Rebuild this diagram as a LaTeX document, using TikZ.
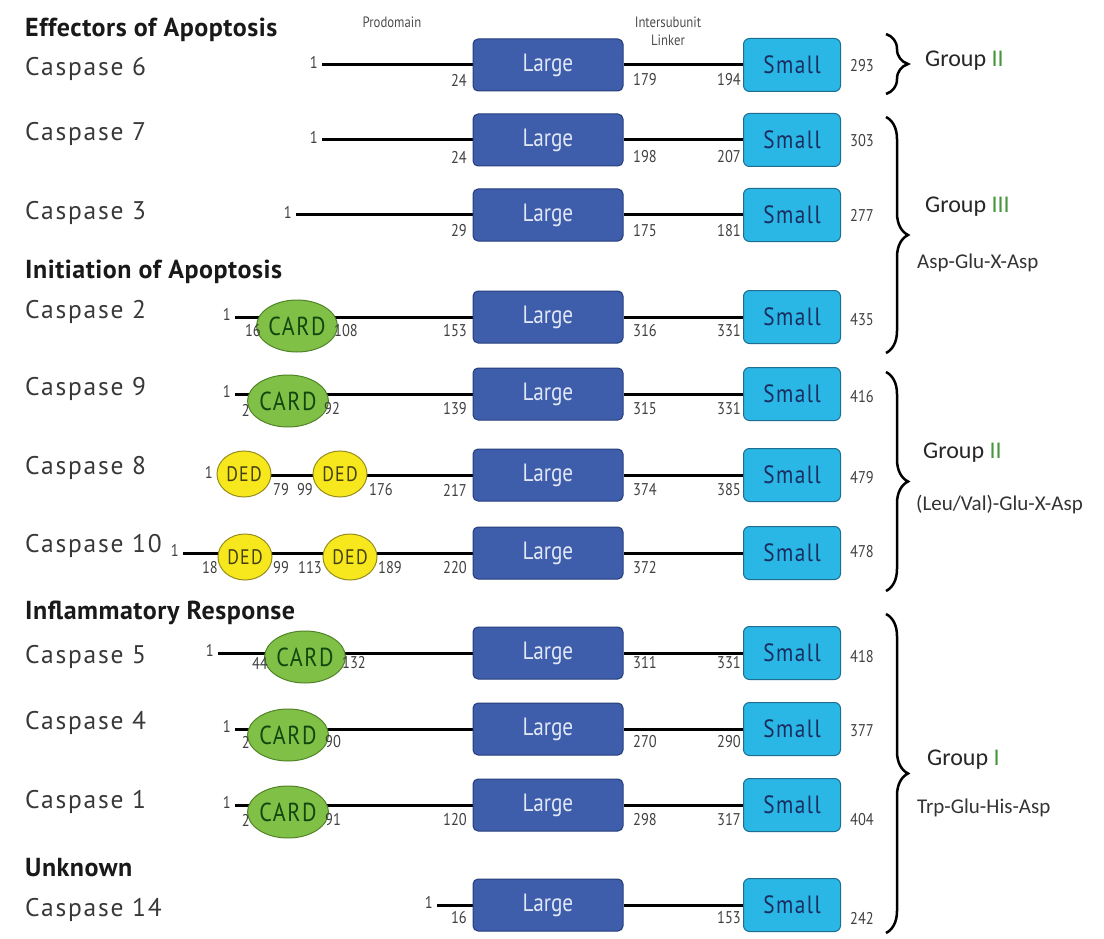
\documentclass[tikz,border=0pt]{standalone}
\usepackage{fontspec}
\setmainfont{PT Sans}
\newfontfamily\casfont[LetterSpace=7]{PT Sans}
\newfontfamily\numfont[FakeStretch=0.85]{PT Sans}
\newfontfamily\boxfont[FakeStretch=0.85,LetterSpace=6]{PT Sans}
\newfontfamily\headfont[LetterSpace=2]{PT Sans}
\newfontfamily\grpfont{Carlito}
\definecolor{largeblue}{RGB}{62, 93, 170}
\definecolor{largeedge}{RGB}{40, 62, 125}
\definecolor{largetext}{RGB}{225, 231, 246}
\definecolor{smallcyan}{RGB}{42, 183, 230}
\definecolor{smalledge}{RGB}{30, 110, 145}
\definecolor{smalltext}{RGB}{25, 45, 95}
\definecolor{cardgreen}{RGB}{128, 192, 70}
\definecolor{cardedge}{RGB}{80, 130, 40}
\definecolor{cardtext}{RGB}{20, 70, 15}
\definecolor{dedyellow}{RGB}{246, 232, 28}
\definecolor{dededge}{RGB}{150, 140, 30}
\definecolor{dedtext}{RGB}{70, 65, 20}
\definecolor{grpgreen}{RGB}{70, 150, 60}
\usepackage{tikz}
\usetikzlibrary{
  positioning,
  shapes.geometric,
  calc,
  backgrounds,
  decorations.pathreplacing
}

\begin{document}
\begin{tikzpicture}[
  x=1pt, y=-1pt,
  large/.style={
    draw=largeedge, fill=largeblue, rounded corners=5pt, line width=1pt,
    minimum width=150pt, minimum height=52pt, text=largetext,
    font=\numfont\fontsize{25}{25}\selectfont
  },
  small/.style={
    draw=smalledge, fill=smallcyan, rounded corners=6pt, line width=1pt,
    minimum width=97pt, minimum height=53pt, text=smalltext,
    font=\boxfont\fontsize{25}{25}\selectfont
  },
  card/.style={
    ellipse, draw=cardedge, fill=cardgreen, line width=1pt, inner sep=0pt,
    minimum width=70pt, minimum height=52pt, text=cardtext,
    font=\boxfont\fontsize{26}{26}\selectfont
  },
  ded/.style={
    ellipse, draw=dededge, fill=dedyellow, line width=1pt, inner sep=0pt,
    minimum width=54pt, minimum height=46pt, text=dedtext,
    font=\boxfont\fontsize{21}{21}\selectfont
  },
  num/.style={inner sep=0pt, text=black!75, font=\numfont\fontsize{17}{17}\selectfont},
  caslab/.style={inner sep=0pt, text=black!78, font=\casfont\fontsize{25.5}{26}\selectfont},
  head/.style={inner sep=0pt, text=black!90, font=\headfont\bfseries\fontsize{26}{26}\selectfont},
  toplab/.style={inner sep=0pt, text=black!70, align=center, font=\numfont\fontsize{15}{18}\selectfont},
  grp/.style={inner sep=0pt, text=black!85, font=\grpfont\fontsize{24}{24}\selectfont},
  motif/.style={inner sep=0pt, text=black!80, font=\grpfont\fontsize{21}{21}\selectfont},
  backbone/.style={line width=3pt},
  grpbrace/.style={decorate, decoration={brace, amplitude=22pt}, line width=2.5pt}
]
\useasboundingbox (0,0) rectangle (1104,939);

% section headings
\node[head, anchor=base west] (hEff) at (25,37) {Effectors of Apoptosis};
\node[head, anchor=base west] (hIni) at (25,278) {Initiation of Apoptosis};
\node[head, anchor=base west] (hInf) at (25,619) {Inflammatory Response};
\node[head, anchor=base west] (hUnk) at (25,876) {Unknown};

\node[toplab] (pro) at (392,22) {Prodomain};
\node[toplab] (isl) at (668,31) {Intersubunit\\Linker};

% one row per caspase: number / line y / start x / label baseline / last residue / its y
\foreach \n/\y/\x/\ly/\e/\ey in {6/65/322/76/293/66, 7/140/322/141/303/141,
    3/215/296/219/277/215, 2/317/235/318/435/320, 9/394/235/395/416/397,
    8/475/217/474/479/478, 10/553/183/552/478/552, 5/653/218/663/418/657,
    4/729/235/729/377/731, 1/805/235/808/404/820, 14/905/437/916/242/918} {
  \node[caslab, anchor=base west] (t\n) at (25,\ly) {Caspase \n};
  \node[large] (L\n) at (548,\y) {Large};
  \node[small] (S\n) at (792,\y) {Small};
  \coordinate (c\n) at (\x,\y);
  \node[num, anchor=east] (one\n) at (\x-4,\y-3) {1};
  \node[num, anchor=west] (end\n) at (850,\ey) {\e};
  \draw[backbone] (L\n.east) -- (S\n.west);
  \begin{scope}[on background layer]
    \draw[backbone] (c\n) -- (L\n.west);
  \end{scope}
}

% prodomain motifs
\node[card] (card2) at (297,326) {CARD};
\node[card] (card9) at (288,401) {CARD};
\node[ded] (ded8a) at (244,474) {DED};
\node[ded] (ded8b) at (340,474) {DED};
\node[ded] (ded10a) at (245,557) {DED};
\node[ded] (ded10b) at (350,557) {DED};
\node[card] (card5) at (305,657) {CARD};
\node[card] (card4) at (288,735) {CARD};
\node[card] (card1) at (288,812) {CARD};

% residue numbers
\node[num, anchor=east] (a6) at (467,80) {24};
\node[num, anchor=west] (b6) at (633,80) {179};
\node[num, anchor=east] (d6) at (741,80) {194};

\node[num, anchor=east] (a7) at (467,157) {24};
\node[num, anchor=west] (b7) at (633,157) {198};
\node[num, anchor=east] (d7) at (741,157) {207};

\node[num, anchor=east] (a3) at (467,231) {29};
\node[num, anchor=west] (b3) at (633,231) {175};
\node[num, anchor=east] (d3) at (741,231) {181};

\node[num, anchor=east] (p2a) at (261,331) {16};
\node[num, anchor=west] (p2b) at (334,331) {108};
\node[num, anchor=east] (a2) at (467,331) {153};
\node[num, anchor=west] (b2) at (633,331) {316};
\node[num, anchor=east] (d2) at (741,331) {331};

\node[num, anchor=east] (p9a) at (250,410) {2};
\node[num, anchor=west] (p9b) at (324,409) {92};
\node[num, anchor=east] (a9) at (467,409) {139};
\node[num, anchor=west] (b9) at (633,409) {315};
\node[num, anchor=east] (d9) at (741,409) {331};

\node[num, anchor=west] (p8a) at (273,490) {79};
\node[num, anchor=east] (p8b) at (313,490) {99};
\node[num, anchor=west] (p8c) at (369,490) {176};
\node[num, anchor=east] (a8) at (467,490) {217};
\node[num, anchor=west] (b8) at (633,490) {374};
\node[num, anchor=east] (d8) at (741,490) {385};

\node[num, anchor=east] (p10a) at (218,568) {18};
\node[num, anchor=west] (p10b) at (273,568) {99};
\node[num, anchor=east] (p10c) at (322,568) {113};
\node[num, anchor=west] (p10d) at (378,568) {189};
\node[num, anchor=east] (a10) at (467,568) {220};
\node[num, anchor=west] (b10) at (633,568) {372};

\node[num, anchor=east] (p5a) at (268,663) {44};
\node[num, anchor=west] (p5b) at (342,663) {132};
\node[num, anchor=west] (b5) at (633,663) {311};
\node[num, anchor=east] (d5) at (741,663) {331};

\node[num, anchor=east] (p4a) at (250,742) {2};
\node[num, anchor=west] (p4b) at (325,742) {90};
\node[num, anchor=west] (b4) at (633,742) {270};
\node[num, anchor=east] (d4) at (741,742) {290};

\node[num, anchor=east] (p1a) at (250,820) {2};
\node[num, anchor=west] (p1b) at (325,820) {91};
\node[num, anchor=east] (a1) at (467,820) {120};
\node[num, anchor=west] (b1) at (633,820) {298};
\node[num, anchor=east] (d1) at (741,820) {317};

\node[num, anchor=east] (a14) at (467,918) {16};
\node[num, anchor=east] (d14) at (741,918) {153};

% groups
\coordinate (br1t) at (886,34);  \coordinate (br1b) at (886,94);
\coordinate (br2t) at (886,117); \coordinate (br2b) at (886,353);
\coordinate (br3t) at (886,372); \coordinate (br3b) at (886,591);
\coordinate (br4t) at (886,614); \coordinate (br4b) at (886,933);
\draw[grpbrace] (br1t) -- (br1b);
\draw[grpbrace] (br2t) -- (br2b);
\draw[grpbrace] (br3t) -- (br3b);
\draw[grpbrace] (br4t) -- (br4b);

\node[grp, anchor=base west] (g1) at (925,67) {Group \textcolor{grpgreen}{II}};
\node[grp, anchor=base west] (g2) at (925,212) {Group \textcolor{grpgreen}{III}};
\node[motif, anchor=base west] (m2) at (917,268) {Asp-Glu-X-Asp};
\node[grp, anchor=base west] (g3) at (923,458) {Group \textcolor{grpgreen}{II}};
\node[motif, anchor=base west] (m3) at (916,510) {(Leu/Val)-Glu-X-Asp};
\node[grp, anchor=base west] (g4) at (927,765) {Group \textcolor{grpgreen}{I}};
\node[motif, anchor=base west] (m4) at (917,813) {Trp-Glu-His-Asp};
\end{tikzpicture}
\end{document}
